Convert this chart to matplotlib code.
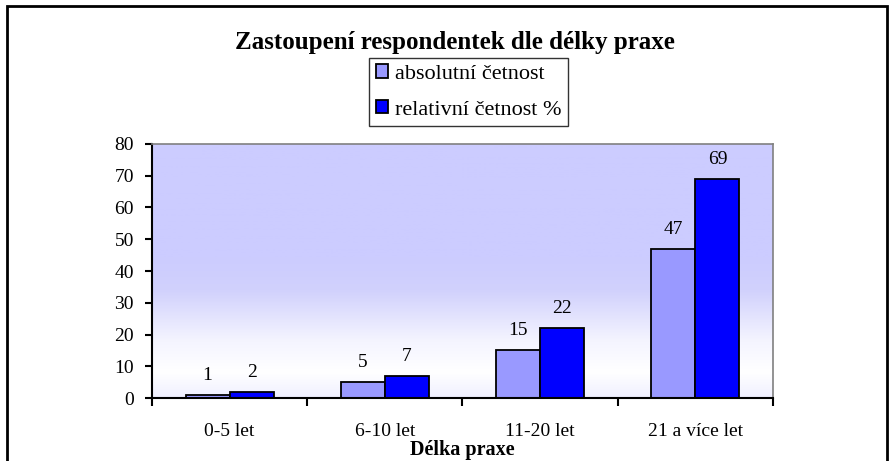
import numpy as np
import matplotlib
matplotlib.use("Agg")
import matplotlib.pyplot as plt
from matplotlib.patches import Rectangle
from matplotlib.colors import LinearSegmentedColormap

categories = ["0-5 let", "6-10 let", "11-20 let", "21 a více let"]
absolutni = [1, 5, 15, 47]
relativni = [2, 7, 22, 69]
series_names = ["absolutní četnost", "relativní četnost %"]
title = "Zastoupení respondentek dle délky praxe"
xlabel = "Délka praxe"
yticks = [0, 10, 20, 30, 40, 50, 60, 70, 80]

plt.rcParams['font.family'] = ['Liberation Serif', 'DejaVu Serif']

W, H = 890, 461
fig = plt.figure(figsize=(W / 100, H / 100), dpi=100)
fig.patch.set_facecolor('white')

L, R, T, B = 152, 773, 144, 398
ax = fig.add_axes([L / W, 1 - B / H, (R - L) / W, (B - T) / H])

# gradient background
cmap = LinearSegmentedColormap.from_list(
    "bg", [(0.0, (0.94, 0.94, 1.0)), (0.10, (1.0, 1.0, 1.0)),
           (0.22, (0.96, 0.96, 1.0)), (0.42, (0.82, 0.82, 0.99)),
           (0.55, (0.80, 0.80, 1.0)), (1.0, (0.80, 0.80, 1.0))])
grad = np.linspace(0, 1, 256).reshape(-1, 1)
ax.imshow(grad, cmap=cmap, origin='lower', aspect='auto',
          extent=[-0.5, len(categories) - 0.5, 0, 80], zorder=0)

x = np.arange(len(categories))
bw = 0.284
b1 = ax.bar(x - bw / 2, absolutni, bw, color='#9999FF', edgecolor='black',
            linewidth=1.3, label=series_names[0], zorder=2)
b2 = ax.bar(x + bw / 2, relativni, bw, color='#0000FF', edgecolor='black',
            linewidth=1.3, label=series_names[1], zorder=2)

for bars, vals in ((b1, absolutni), (b2, relativni)):
    for rect, v in zip(bars, vals):
        ax.annotate(str(v), (rect.get_x() + rect.get_width() / 2, rect.get_height()),
                    xytext=(0, 8), textcoords='offset points', ha='center',
                    va='bottom', fontsize=14, color='black')

ax.set_xlim(-0.5, len(categories) - 0.5)
ax.set_ylim(0, 80)
ax.set_yticks(yticks)
ax.tick_params(axis='y', direction='out', length=5, width=1.5, pad=8,
               labelsize=14, colors='black')
ax.set_xticks(x)
ax.set_xticklabels(categories, fontsize=14)
ax.tick_params(axis='x', which='major', length=0, pad=18)
ax.set_xticks(np.arange(len(categories) + 1) - 0.5, minor=True)
ax.tick_params(axis='x', which='minor', direction='out', length=6, width=1.5)
ax.set_xlabel(xlabel, fontsize=14.5, fontweight='bold', labelpad=0)

for s in ('top', 'right'):
    ax.spines[s].set_color('#808080')
    ax.spines[s].set_linewidth(1.2)
for s in ('left', 'bottom'):
    ax.spines[s].set_color('black')
    ax.spines[s].set_linewidth(1.5)

fig.text(455 / W, 1 - 42 / H, title, ha='center', va='center',
         fontsize=18, fontweight='bold')

leg = fig.legend(handles=[b1, b2], loc='center',
                 bbox_to_anchor=(468.5 / W, 1 - 92 / H), fontsize=16,
                 frameon=True, fancybox=False, edgecolor='black',
                 handlelength=0.55, handleheight=0.55, handletextpad=0.3,
                 borderpad=0.3, labelspacing=0.72, borderaxespad=0)
leg.get_frame().set_linewidth(1.0)

# outer chart frame
fig.patches.append(Rectangle((7 / W, -0.1), (887 - 7) / W, 1 - 6 / H + 0.1,
                             transform=fig.transFigure, fill=False,
                             edgecolor='black', linewidth=2.0))

fig.savefig("out.png", dpi=100)
